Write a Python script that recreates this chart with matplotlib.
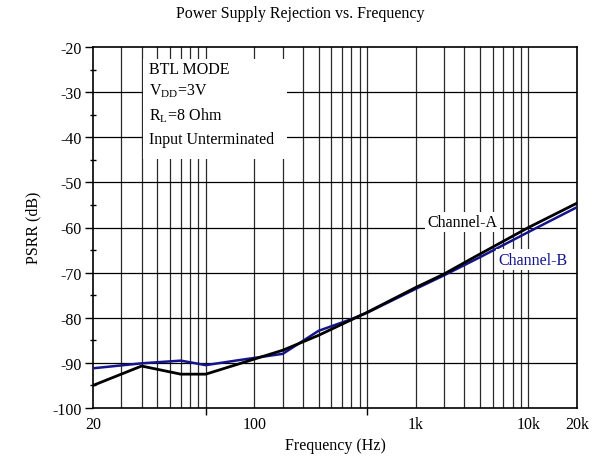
import matplotlib.pyplot as plt
from matplotlib.patches import Rectangle

plt.rcParams['font.family'] = ['Liberation Serif', 'DejaVu Serif']
plt.rcParams['mathtext.fontset'] = 'stix'
plt.rcParams['axes.unicode_minus'] = False

# PSRR curves (Hz, dB)
freq_a = [20, 40, 70, 100, 300, 500, 1000, 2000, 3000, 4600, 10000, 20000]
psrr_a = [-95.0, -90.7, -92.5, -92.5, -87.2, -83.9, -78.8, -73.3, -70.3, -66.6, -60.0, -54.6]
freq_b = [20, 40, 70, 100, 160, 300, 500, 800, 1000, 2000, 3000, 5000, 10000, 20000]
psrr_b = [-91.2, -90.1, -89.5, -90.5, -89.4, -88.0, -82.9, -80.3, -78.9, -73.6, -70.6, -66.6, -61.0, -55.5]

xlabels = ['20', '100', '1k', '10k', '20k']
xlabel_pos = [20, 200, 2000, 10000, 20000]   # where the labels sit in the reference
xmajor = [20, 100, 1000, 10000, 20000]
grid_f = sorted(set(f * m for m in (1, 10, 100) for f in range(20, 110, 10)))
grid_f = [f for f in grid_f if 20 < f <= 10000]

fig = plt.figure(figsize=(6.01, 4.64), dpi=100)
ax = fig.add_axes([93 / 601, 1 - 409 / 464, 484 / 601, 361 / 464])
ax.set_xscale('log')
ax.set_xlim(20, 20000)
ax.set_ylim(-100, -20)

# grid
for f in grid_f:
    ax.axvline(f, color='#2a2a2a', lw=0.9, zorder=0.5)
for y in range(-90, -20, 10):
    ax.axhline(y, color='k', lw=0.9, zorder=0.5)

# white box behind the conditions text
ax.add_patch(Rectangle((41, -44.8), 320 - 41, 22.1, facecolor='white',
                       edgecolor='none', zorder=1))

ax.plot(freq_b, psrr_b, color='#14148c', lw=1.8, zorder=3)
ax.plot(freq_a, psrr_a, color='black', lw=2.0, zorder=4)

tkw = dict(fontsize=11.5, va='center', ha='left', zorder=5)
ax.text(44.5, -24.9, 'BTL MODE', **tkw)
ax.text(44.5, -29.6, r'V$_{\mathregular{DD}}$=3V', **tkw)
ax.text(44.5, -35.1, r'R$_{\mathregular{L}}$=8 Ohm', **tkw)
ax.text(44.5, -40.4, 'Input Unterminated', **tkw)

ax.text(3900, -58.8, 'Channel-A', fontsize=11.5, ha='center', va='center', zorder=5,
        bbox=dict(facecolor='white', edgecolor='none', pad=1.5))
ax.text(10600, -67.1, 'Channel-B', fontsize=11.5, ha='center', va='center', color='#14148c',
        zorder=5, bbox=dict(facecolor='white', edgecolor='none', pad=1.5))

# x ticks: labels and tick marks are at different spots in the reference
ax.set_xticks(xlabel_pos, xlabels)
ax.set_xticks(xmajor, minor=True)
ax.tick_params(axis='x', which='major', length=0, pad=6, labelsize=11.5)
ax.tick_params(axis='x', which='minor', length=5, direction='out', width=1)
ax.xaxis.set_minor_formatter(plt.NullFormatter())

ax.set_yticks(range(-100, -19, 10))
ax.set_yticks(range(-95, -20, 10), minor=True)
ax.tick_params(axis='y', which='major', length=6, direction='out', width=1, labelsize=11.5, pad=2)
ax.tick_params(axis='y', which='minor', length=4, direction='inout', width=1)

for s in ax.spines.values():
    s.set_linewidth(1.2)

fig.text(0.5, 1 - 14 / 464, 'Power Supply Rejection vs. Frequency', ha='center', va='center', fontsize=11.5)
fig.text(335 / 601, 1 - 446 / 464, 'Frequency (Hz)', ha='center', va='center', fontsize=11.5)
fig.text(33 / 601, 1 - 228 / 464, 'PSRR (dB)', ha='center', va='center', rotation=90, fontsize=11.5)

fig.savefig('out.png', dpi=100)
